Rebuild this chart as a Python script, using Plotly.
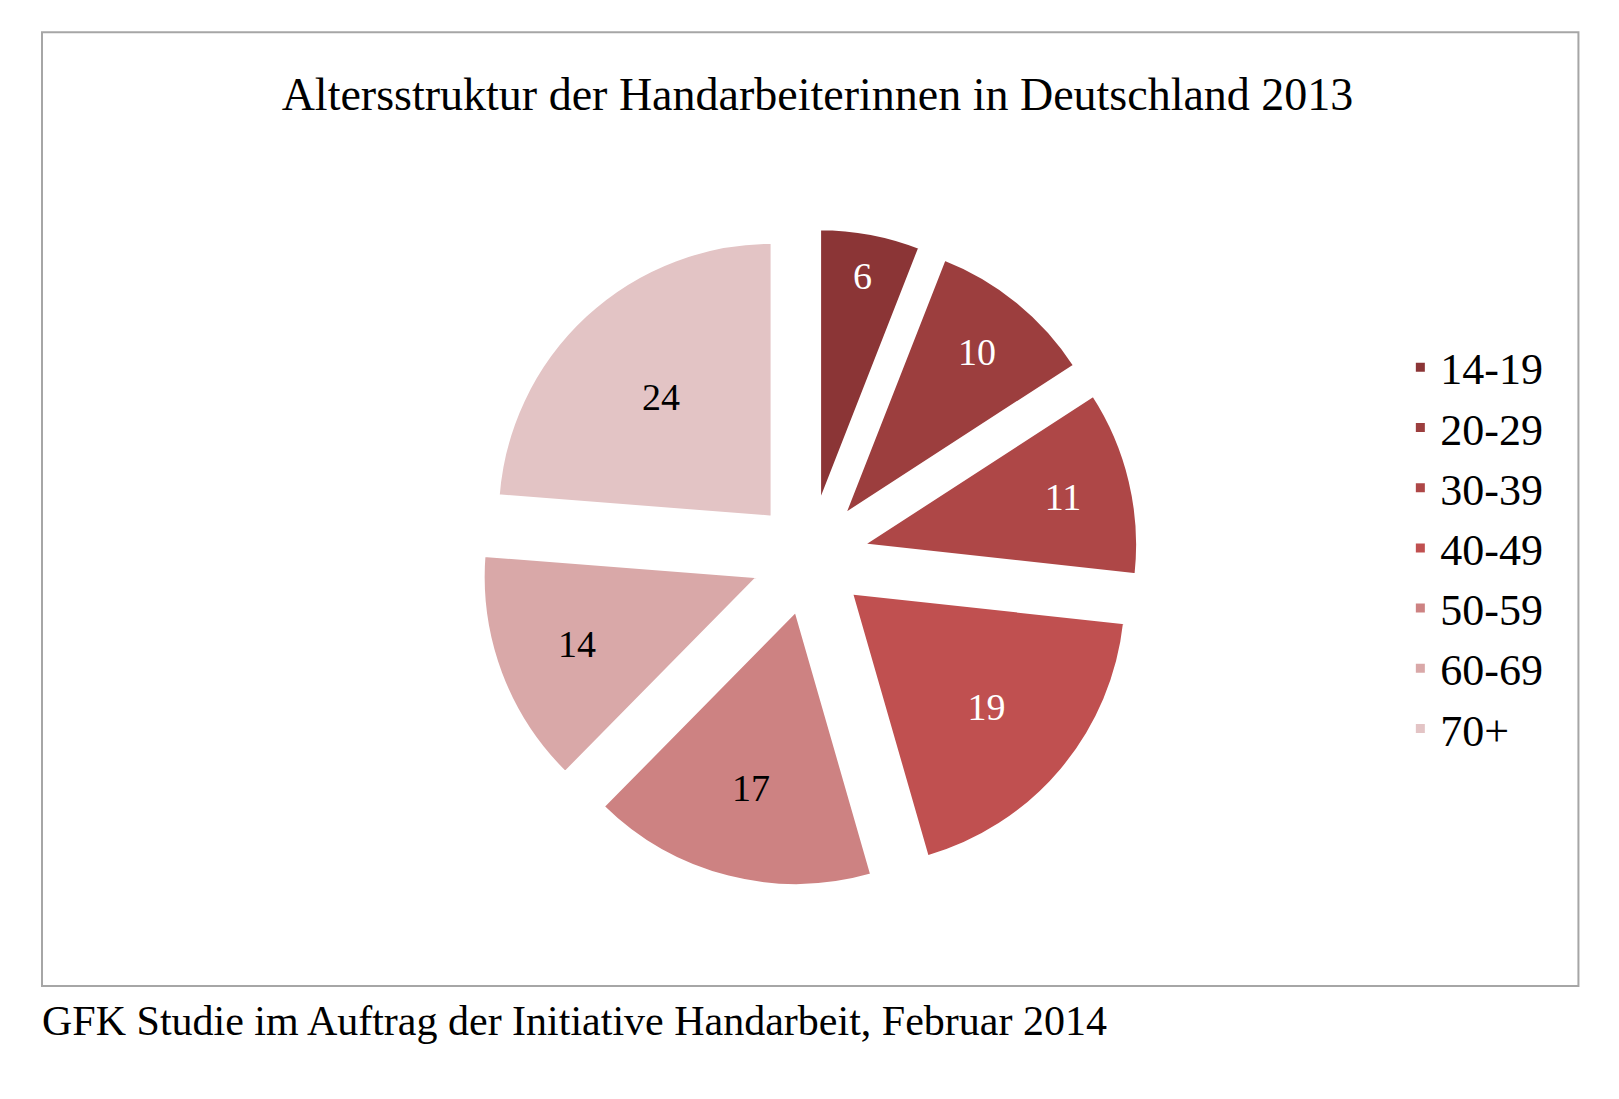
import plotly.graph_objects as go

labels = ["14-19", "20-29", "30-39", "40-49", "50-59", "60-69", "70+"]
values = [6, 10, 11, 19, 17, 14, 24]
colors = ["#8B3536", "#9C3E3E", "#AE4747", "#C05050", "#CD8282", "#D9A8A8", "#E3C4C5"]
text_colors = ["white", "white", "white", "white", "black", "black", "black"]

fig = go.Figure(go.Pie(
    labels=labels, values=values, sort=False, direction="clockwise", rotation=0,
    marker=dict(colors=colors, line=dict(color="white", width=3)),
    pull=[0.2] * 7, textinfo="value", textposition="inside",
    insidetextorientation="horizontal",
    textfont=dict(family="Liberation Serif", size=38, color=text_colors),
    domain=dict(x=[0.29, 0.70], y=[0.2, 0.8]), hoverinfo="label+value",
))
fig.update_layout(
    width=1619, height=1099, margin=dict(l=0, r=0, t=0, b=0),
    paper_bgcolor="white", font=dict(family="Liberation Serif", color="black"),
    title=dict(text="Altersstruktur der Handarbeiterinnen in Deutschland 2013",
               x=0.5, xanchor="center", y=0.922, yanchor="middle",
               font=dict(size=46, family="Liberation Serif")),
    legend=dict(x=0.86, y=0.705, xanchor="left", yanchor="top",
                font=dict(size=44, family="Liberation Serif"), tracegroupgap=0),
    shapes=[dict(type="rect", xref="paper", yref="paper", x0=0.021, x1=0.97,
                 y0=0.11, y1=0.978, line=dict(color="#A6A6A6", width=2))],
    annotations=[dict(text="GFK Studie im Auftrag der Initiative Handarbeit, Februar 2014",
                      xref="paper", yref="paper", x=0.02, y=0.078, xanchor="left",
                      yanchor="middle", showarrow=False,
                      font=dict(size=42, family="Liberation Serif"))],
)
fig.write_html("out.html")
